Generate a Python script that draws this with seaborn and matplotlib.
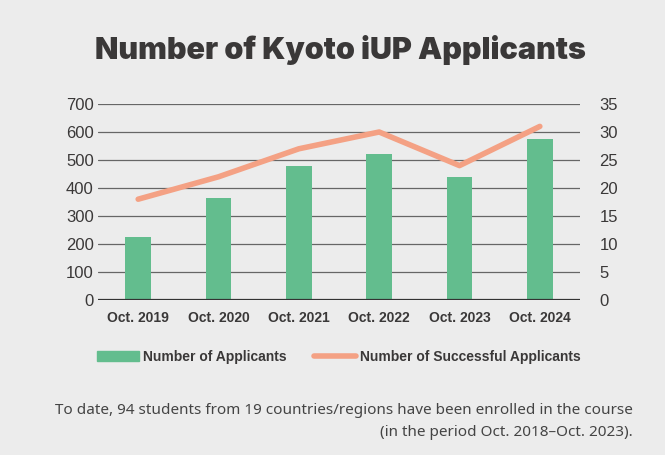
import pandas as pd
import matplotlib.pyplot as plt
import matplotlib.lines as mlines
import matplotlib.patches as mpatches
import seaborn as sns

# Datos del gráfico
anios = ['Oct. 2019', 'Oct. 2020', 'Oct. 2021', 'Oct. 2022', 'Oct. 2023', 'Oct. 2024']
postulantes = [225, 365, 480, 520, 440, 575]
aceptados = [18, 22, 27, 30, 24, 31]

df = pd.DataFrame({'anio': anios, 'postulantes': postulantes, 'aceptados': aceptados})

fondo = '#ececec'
verde = '#63bd8e'
salmon = '#f4a184'
texto = '#3a3838'

sns.set_style('white')
plt.rcParams['font.family'] = ['Liberation Sans', 'DejaVu Sans']

fig = plt.figure(figsize=(6.65, 4.55), dpi=100, facecolor=fondo)
ax = fig.add_axes([98 / 665, 1 - 300 / 455, 482 / 665, 196 / 455])
ax.set_facecolor(fondo)

sns.barplot(data=df, x='anio', y='postulantes', color=verde, width=0.32,
            saturation=1, linewidth=0, ax=ax, zorder=2)
ax.set_ylim(0, 700)
ax.set_xlim(-0.5, 5.5)
ax.set_yticks(range(0, 701, 100))
ax.yaxis.grid(True, color='#666666', linewidth=0.9)
ax.set_axisbelow(True)
for s in ax.spines.values():
    s.set_visible(False)
ax.axhline(0, color='#333333', linewidth=1.6, zorder=3)
ax.set_xlabel('')
ax.set_ylabel('')
ax.tick_params(axis='y', length=0, labelsize=12, labelcolor=texto, pad=3)
ax.tick_params(axis='x', length=0, labelsize=10, labelcolor=texto, pad=8)
for t in ax.get_xticklabels():
    t.set_fontweight('bold')

ax2 = ax.twinx()
sns.lineplot(data=df, x='anio', y='aceptados', color=salmon, linewidth=4,
             ax=ax2, solid_capstyle='round')
ax2.set_ylim(0, 35)
ax2.set_yticks(range(0, 36, 5))
for s in ax2.spines.values():
    s.set_visible(False)
ax2.set_ylabel('')
ax2.tick_params(axis='y', length=0, labelsize=12, labelcolor=texto, pad=14)

fig.text(340 / 665, 1 - 50 / 455, 'Number of Kyoto iUP Applicants', ha='center', va='center',
         fontsize=22, fontweight='black', color=texto, family=['Inter', 'Liberation Sans'])

# Leyenda
h1 = mpatches.Patch(color=verde, label='Number of Applicants')
h2 = mlines.Line2D([], [], color=salmon, linewidth=4, solid_capstyle='round',
                   label='Number of Successful Applicants')
fig.legend(handles=[h1, h2], loc='center', bbox_to_anchor=(339 / 665, 1 - 357 / 455),
           ncol=2, frameon=False, columnspacing=2.0, handlelength=3.0, handletextpad=0.3,
           prop={'weight': 'bold', 'size': 10}, labelcolor=texto)

fig.text(633 / 665, 1 - 410 / 455,
         'To date, 94 students from 19 countries/regions have been enrolled in the course',
         ha='right', va='center', fontsize=11, color='#444444', family=['Noto Sans', 'DejaVu Sans'])
fig.text(633 / 665, 1 - 432 / 455, '(in the period Oct. 2018\u2013Oct. 2023).',
         ha='right', va='center', fontsize=11, color='#444444', family=['Noto Sans', 'DejaVu Sans'])

plt.savefig('out.png', dpi=100, facecolor=fondo)
